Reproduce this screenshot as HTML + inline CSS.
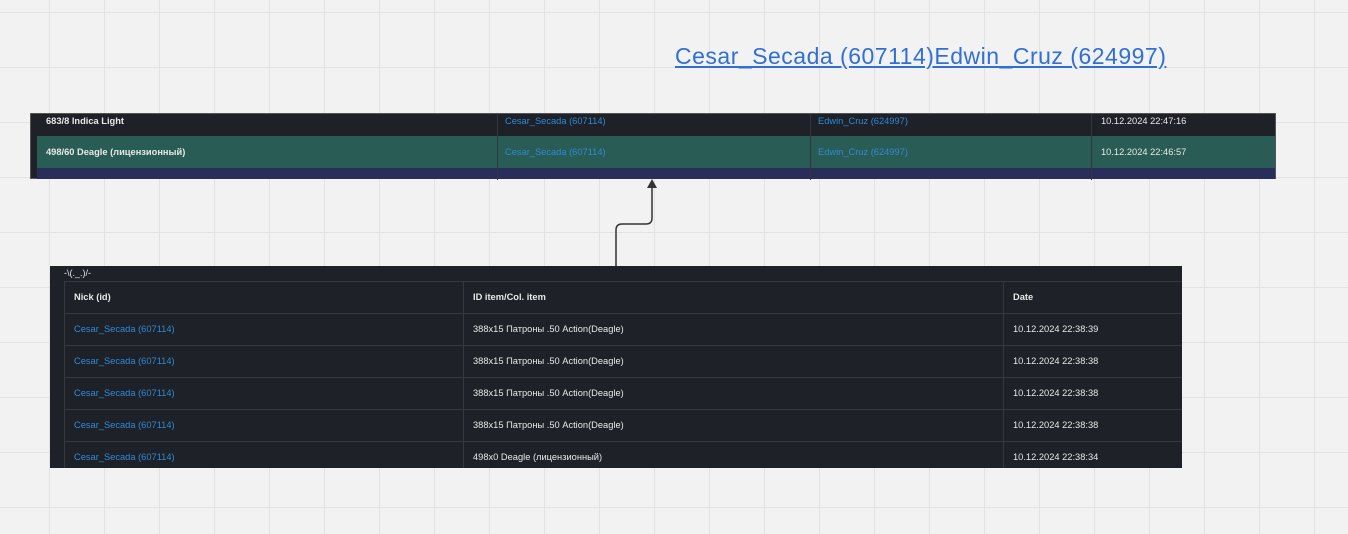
<!DOCTYPE html>
<html><head><meta charset="utf-8"><style>
body{margin:0;width:1348px;height:534px;overflow:hidden;position:relative;font-family:"Liberation Sans","DejaVu Sans",sans-serif;
background-color:#f2f2f2;
background-image:linear-gradient(#e2e2e2 1px,transparent 1px),linear-gradient(90deg,#e2e2e2 1px,transparent 1px);
background-size:55px 55px;background-position:49px 12px;}
.a{position:absolute}
.t{font-size:9.3px;color:#e8e8e8;position:absolute}
.b{font-weight:bold}
.l{color:#2d8ad6}
</style></head><body>
<div class="a" style="left:675px;top:43px;font-size:23px;color:#2f6fd8;text-decoration:underline;letter-spacing:0.5px">Cesar_Secada (607114)Edwin_Cruz (624997)</div>

<div class="a" style="left:30px;top:113px;width:1246px;height:66px;background:#1f2128;border:1px solid #555;box-sizing:border-box">
 <div class="a" style="left:6px;top:22px;right:0;height:32px;background:#2a5c56"></div>
 <div class="a" style="left:6px;top:54px;right:0;height:11px;background:#282d5a"></div>
 <div class="a" style="left:466px;top:0;width:1px;height:66px;background:#33363f"></div>
 <div class="a" style="left:779px;top:0;width:1px;height:66px;background:#33363f"></div>
 <div class="a" style="left:1060px;top:0;width:1px;height:66px;background:#33363f"></div>
 <div class="t b" style="left:15px;top:2px">683/8 Indica Light</div>
 <div class="t l" style="left:474px;top:2px">Cesar_Secada (607114)</div>
 <div class="t l" style="left:787px;top:2px">Edwin_Cruz (624997)</div>
 <div class="t" style="left:1070px;top:2px">10.12.2024 22:47:16</div>
 <div class="t b" style="left:15px;top:33px">498/60 Deagle (лицензионный)</div>
 <div class="t l" style="left:474px;top:33px">Cesar_Secada (607114)</div>
 <div class="t l" style="left:787px;top:33px">Edwin_Cruz (624997)</div>
 <div class="t" style="left:1070px;top:33px">10.12.2024 22:46:57</div>
</div>

<svg class="a" style="left:0;top:0" width="1348" height="534">
 <path d="M616 266 V230 Q616 224 622 224 H646 Q652 224 652 218 V186" fill="none" stroke="#333" stroke-width="1.5"/>
 <path d="M647 188 L652 179 L657 188 Z" fill="#333"/>
</svg>

<div class="a" style="left:50px;top:266px;width:1132px;height:202px;background:#1f2128">
 <div class="t" style="left:14px;top:2px;font-size:9px">-\(._.)/-</div>
 <div class="a" style="left:14px;top:15px;right:0;bottom:0;border-top:1px solid #353842;border-left:1px solid #353842"></div>
 <div class="a" style="left:413px;top:15px;width:1px;bottom:0;background:#353842"></div>
 <div class="a" style="left:953px;top:15px;width:1px;bottom:0;background:#353842"></div>
 <div class="a" style="left:14px;top:47px;right:0;height:1px;background:#353842"></div>
 <div class="a" style="left:14px;top:79px;right:0;height:1px;background:#353842"></div>
 <div class="a" style="left:14px;top:111px;right:0;height:1px;background:#353842"></div>
 <div class="a" style="left:14px;top:143px;right:0;height:1px;background:#353842"></div>
 <div class="a" style="left:14px;top:175px;right:0;height:1px;background:#353842"></div>
 <div class="t b" style="left:24px;top:26px">Nick (id)</div>
 <div class="t b" style="left:423px;top:26px">ID item/Col. item</div>
 <div class="t b" style="left:963px;top:26px">Date</div>

 <div class="t l" style="left:24px;top:58px">Cesar_Secada (607114)</div>
 <div class="t" style="left:423px;top:58px">388x15 Патроны .50 Action(Deagle)</div>
 <div class="t" style="left:963px;top:58px">10.12.2024 22:38:39</div>
 <div class="t l" style="left:24px;top:90px">Cesar_Secada (607114)</div>
 <div class="t" style="left:423px;top:90px">388x15 Патроны .50 Action(Deagle)</div>
 <div class="t" style="left:963px;top:90px">10.12.2024 22:38:38</div>
 <div class="t l" style="left:24px;top:122px">Cesar_Secada (607114)</div>
 <div class="t" style="left:423px;top:122px">388x15 Патроны .50 Action(Deagle)</div>
 <div class="t" style="left:963px;top:122px">10.12.2024 22:38:38</div>
 <div class="t l" style="left:24px;top:154px">Cesar_Secada (607114)</div>
 <div class="t" style="left:423px;top:154px">388x15 Патроны .50 Action(Deagle)</div>
 <div class="t" style="left:963px;top:154px">10.12.2024 22:38:38</div>
 <div class="t l" style="left:24px;top:186px">Cesar_Secada (607114)</div>
 <div class="t" style="left:423px;top:186px">498x0 Deagle (лицензионный)</div>
 <div class="t" style="left:963px;top:186px">10.12.2024 22:38:34</div>
</div>
</body></html>
